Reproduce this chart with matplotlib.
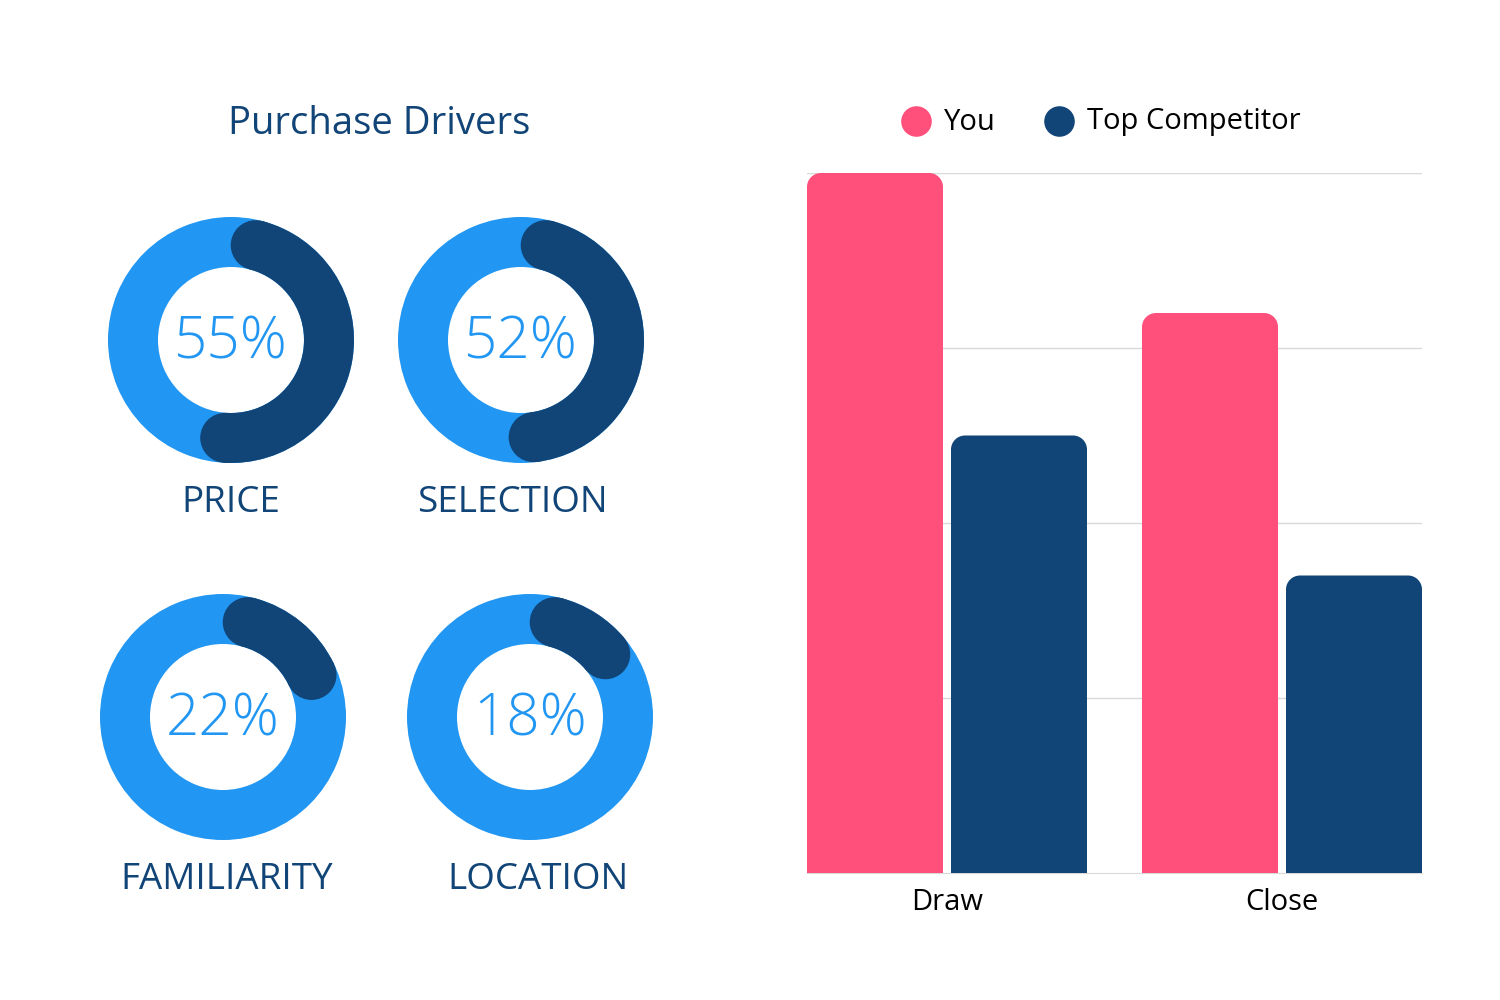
import matplotlib
matplotlib.use("Agg")
import matplotlib.pyplot as plt
from matplotlib.patches import Wedge, Circle, PathPatch
from matplotlib.path import Path
import numpy as np

plt.rcParams['font.family'] = ['Open Sans', 'DejaVu Sans']

# ---- data ----
driver_labels = ["PRICE", "SELECTION", "FAMILIARITY", "LOCATION"]
driver_values = [55, 52, 22, 18]
bar_categories = ["Draw", "Close"]
series_names = ["You", "Top Competitor"]
you_values = [100, 80]
competitor_values = [62.5, 42.5]

LIGHT = "#2196F2"
DARK = "#114477"
PINK = "#FF4F7B"
GRID = "#D9D9D9"

W, H = 1500, 1000
fig = plt.figure(figsize=(15, 10), dpi=100)

def fx(px):
    return px / W

def fy(py):
    return 1 - py / H

# ---- title ----
fig.text(fx(379), fy(124), "Purchase Drivers", ha="center", va="center",
         fontsize=27.5, color=DARK)

# ---- donuts ----
donut_centers = [(231, 340), (521, 340), (223, 717), (530, 717)]
label_pos = [(231, 503), (512, 503), (227, 880), (538, 880)]
R_OUT, WIDTH = 123, 50
half = 130

for (cx, cy), val, lab, (lx, ly) in zip(donut_centers, driver_values, driver_labels, label_pos):
    ax = fig.add_axes([fx(cx - half), fy(cy + half), fx(2 * half), 2 * half / H])
    ax.set_xlim(-half, half)
    ax.set_ylim(-half, half)
    ax.set_aspect("equal")
    ax.axis("off")
    ax.add_patch(Wedge((0, 0), R_OUT, 0, 360, width=WIDTH, color=LIGHT, lw=0))
    rmid = R_OUT - WIDTH / 2
    cap = WIDTH / 2
    inset = np.degrees(cap / rmid)
    span = 360 * val / 100
    a_start = 90 - inset
    a_end = 90 - span + inset
    ax.add_patch(Wedge((0, 0), R_OUT, a_end, a_start, width=WIDTH, color=DARK, lw=0))
    for a in (a_start, a_end):
        ax.add_patch(Circle((rmid * np.cos(np.radians(a)), rmid * np.sin(np.radians(a))),
                            cap, color=DARK, lw=0))
    ax.text(0, -3, f"{val}%", ha="center", va="center", fontsize=42,
            color=LIGHT, fontweight="light")
    fig.text(fx(lx), fy(ly), lab, ha="center", va="center", fontsize=26.5, color=DARK)

# ---- bar chart ----
bx0, bx1, by0, by1 = 807, 1422, 173, 873
axb = fig.add_axes([fx(bx0), fy(by1), fx(bx1 - bx0), (by1 - by0) / H])
x = np.arange(len(bar_categories))
unit_px = 335.0
bw = 136 / unit_px
off = 72 / unit_px
axb.set_xlim(-140 / unit_px, 1 + 140 / unit_px)
axb.set_ylim(0, 100)
axb.set_yticks([25, 50, 75, 100])
axb.yaxis.grid(True, color=GRID, lw=1)
axb.set_axisbelow(True)
for s in ["left", "right", "top"]:
    axb.spines[s].set_visible(False)
axb.spines["bottom"].set_color(GRID)
axb.tick_params(axis="y", length=0, labelleft=False)
axb.tick_params(axis="x", length=0, labelsize=21, pad=11)
axb.set_xticks(x)
axb.set_xticklabels(bar_categories)

rpx = 14
rx = rpx / unit_px
ry = rpx / 7.0
K = 0.5523

def rounded_bar(xc, h, color):
    l, r = xc - bw / 2, xc + bw / 2
    verts = [(l, 0), (l, h - ry),
             (l, h - ry + K * ry), (l + rx - K * rx, h), (l + rx, h),
             (r - rx, h),
             (r - rx + K * rx, h), (r, h - ry + K * ry), (r, h - ry),
             (r, 0), (l, 0)]
    codes = [Path.MOVETO, Path.LINETO,
             Path.CURVE4, Path.CURVE4, Path.CURVE4,
             Path.LINETO,
             Path.CURVE4, Path.CURVE4, Path.CURVE4,
             Path.LINETO, Path.CLOSEPOLY]
    axb.add_patch(PathPatch(Path(verts, codes), facecolor=color, lw=0, zorder=3))

for xi, yv, cv in zip(x, you_values, competitor_values):
    rounded_bar(xi - off, yv, PINK)
    rounded_bar(xi + off, cv, DARK)

# legend
legend_items = [(916, 944, series_names[0], PINK), (1059, 1087, series_names[1], DARK)]
for mx, tx, name, col in legend_items:
    fig.add_artist(matplotlib.lines.Line2D([fx(mx)], [fy(121)], marker="o",
                                           markersize=21, color=col, lw=0,
                                           transform=fig.transFigure))
    fig.text(fx(tx), fy(122), name, ha="left", va="center", fontsize=21, color="black")

fig.savefig("out.png", dpi=100, facecolor="white")
